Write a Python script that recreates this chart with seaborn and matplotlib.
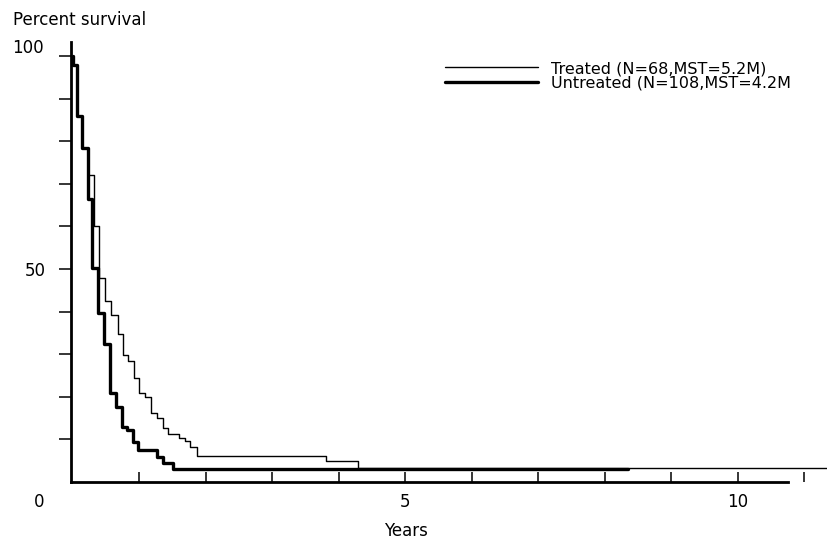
import matplotlib
matplotlib.use("Agg")
import matplotlib.pyplot as plt
import seaborn as sns
import numpy as np

# ---- data ----
treated_t = [0.0, 0.0, 0.06, 0.135, 0.22, 0.31, 0.39, 0.48, 0.57, 0.68, 0.75, 0.83,
             0.92, 0.99, 1.08, 1.17, 1.26, 1.35, 1.43, 1.59, 1.68, 1.76, 1.86,
             3.80, 4.29, 11.4]
treated_s = [100, 98, 86, 78.4, 72, 60, 48, 42.5, 39.2, 34.7, 29.8, 28.4,
             24.4, 20.9, 20.0, 16.2, 15.0, 12.7, 11.3, 10.3, 9.6, 8.2, 6.1,
             4.9, 3.4, 3.4]
untreated_t = [0.0, 0.0, 0.06, 0.135, 0.22, 0.29, 0.38, 0.46, 0.56, 0.65, 0.74,
               0.81, 0.90, 0.98, 1.26, 1.35, 1.50, 8.35]
untreated_s = [100, 98, 86, 78.4, 66.4, 50.2, 39.7, 32.4, 20.8, 17.6, 12.9,
               12.2, 9.4, 7.5, 5.9, 4.5, 3.0, 3.0]

treated_label = "Treated (N=68,MST=5.2M)"
untreated_label = "Untreated (N=108,MST=4.2M"
x_ticks = [1, 2, 3, 4, 5, 6, 7, 8, 9, 10, 11]
x_tick_labels = ["", "", "", "", "5", "", "", "", "", "10", ""]
y_ticks = [10, 20, 30, 40, 50, 60, 70, 80, 90, 100]
y_tick_labels = ["", "", "", "", "50", "", "", "", "", ""]

sns.set_style("ticks")
plt.rcParams["font.family"] = ["DejaVu Sans"]
plt.rcParams["text.color"] = "black"
plt.rcParams["axes.labelcolor"] = "black"
FS = 12

W, H = 827, 541
fig = plt.figure(figsize=(W / 100, H / 100), dpi=100)
ax = fig.add_axes([71 / W, (H - 482) / H, (W - 71) / W, 440 / H])

sns.lineplot(x=treated_t, y=treated_s, estimator=None, sort=False,
             drawstyle="steps-post", color="black", linewidth=1.0,
             label=treated_label, ax=ax)
sns.lineplot(x=untreated_t, y=untreated_s, estimator=None, sort=False,
             drawstyle="steps-post", color="black", linewidth=2.4,
             label=untreated_label, ax=ax)

x_left = -0.03
x_right = (W - 73) / 66.5
ax.set_xlim(x_left, x_right)
ax.set_ylim(0, 103.3)

for s in ["top", "right"]:
    ax.spines[s].set_visible(False)
for s in ["left", "bottom"]:
    ax.spines[s].set_linewidth(2.0)
    ax.spines[s].set_color("black")
ax.spines["bottom"].set_bounds(x_left, 10.75)

ax.set_xticks(x_ticks)
ax.set_xticklabels(x_tick_labels)
ax.set_yticks(y_ticks)
ax.set_yticklabels(y_tick_labels)
ax.tick_params(axis="x", direction="in", length=7.5, width=1.1, pad=8,
               labelsize=FS, colors="black")
ax.tick_params(axis="y", direction="out", length=8.5, width=1.1, pad=10,
               labelsize=FS, colors="black")

ax.annotate("100", xy=(0, 100), xycoords=("axes fraction", "data"),
            xytext=(-27, 8), textcoords="offset pixels", ha="right",
            va="center", fontsize=FS, color="black")
ax.annotate("0", xy=(0, 0), xycoords=("axes fraction", "data"),
            xytext=(-27, -20), textcoords="offset pixels", ha="right",
            va="center", fontsize=FS, color="black")

ax.set_ylabel("Percent survival", rotation=0, ha="left", va="center",
              fontsize=FS, color="black")
ax.yaxis.set_label_coords((13 - 71) / 756, (482 - 20) / 440)
ax.set_xlabel("Years", va="center", fontsize=FS, color="black")
ax.xaxis.set_label_coords((406 - 71) / 756, (482 - 531) / 440)

leg = ax.legend(loc="upper left", bbox_to_anchor=(445 / W, 1 - 61 / H),
                bbox_transform=fig.transFigure, frameon=False,
                borderpad=0, borderaxespad=0, handlelength=5.8,
                handletextpad=0.85, labelspacing=0.0, fontsize=11.5)
for t in leg.get_texts():
    t.set_color("black")

fig.savefig("out.png", dpi=100)
